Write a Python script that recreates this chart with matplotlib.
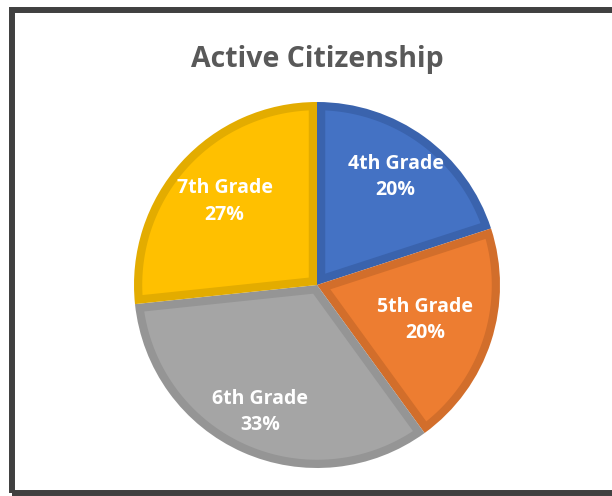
#!/usr/bin/env python3
from matplotlib import pyplot as plt
from matplotlib.patches import Rectangle, Polygon
import numpy as np

grades = ['4th Grade', '5th Grade', '6th Grade', '7th Grade']
counts = [3, 3, 5, 4]
pct_labels = ['20%', '20%', '33%', '27%']
fills = ['#4472C4', '#ED7D31', '#A5A5A5', '#FFC000']
edges = ['#3A63AD', '#D26E2B', '#959595', '#E3AC00']
label_r = [0.73, 0.62, 0.76, 0.68]
border = 0.045  # inner border width, in pie radius units


def inset_wedge(theta1, theta2, r, d):
  # the part of the wedge that is at least d away from its outline
  t1, t2 = np.deg2rad(theta1), np.deg2rad(theta2)
  half = (t2 - t1) / 2
  mid = (t1 + t2) / 2
  ra = d / np.sin(half)
  rin = r - d
  da = np.arcsin(d / rin)
  arc = np.linspace(t1 + da, t2 - da, 120)
  pts = [(ra * np.cos(mid), ra * np.sin(mid))]
  pts += [(rin * np.cos(a), rin * np.sin(a)) for a in arc]
  return np.array(pts)


fig = plt.figure(figsize=(6.12, 4.96), dpi=100)

# outer chart frame
fig.patches.append(Rectangle((12 / 612, 3 / 496), 1.2, 483 / 496,
  transform=fig.transFigure, fill=False, edgecolor='#404040', linewidth=4.3))

fig.text(317 / 612, 1 - 59 / 496, 'Active Citizenship', ha='center', va='center',
  fontsize=20.5, fontweight='bold', color='#595959', family='Open Sans')

ax = fig.add_axes([(317 - 183) / 612, (496 - 285 - 183) / 496, 366 / 612, 366 / 496])
wedges, _ = ax.pie(counts, colors=edges, startangle=90, counterclock=False,
  wedgeprops=dict(linewidth=0))
for w, fc in zip(wedges, fills):
  ax.add_patch(Polygon(inset_wedge(w.theta1, w.theta2, w.r, border),
    closed=True, facecolor=fc, edgecolor='none'))
ax.set_xlim(-1, 1)
ax.set_ylim(-1, 1)
ax.set_aspect('equal')
ax.axis('off')

for w, g, p, r in zip(wedges, grades, pct_labels, label_r):
  mid = np.deg2rad((w.theta1 + w.theta2) / 2)
  ax.text(r * np.cos(mid), r * np.sin(mid), g + '\n' + p, ha='center', va='center',
    color='white', fontsize=14, fontweight='bold', family='Open Sans',
    linespacing=1.45)

fig.savefig('out.png', dpi=100)
